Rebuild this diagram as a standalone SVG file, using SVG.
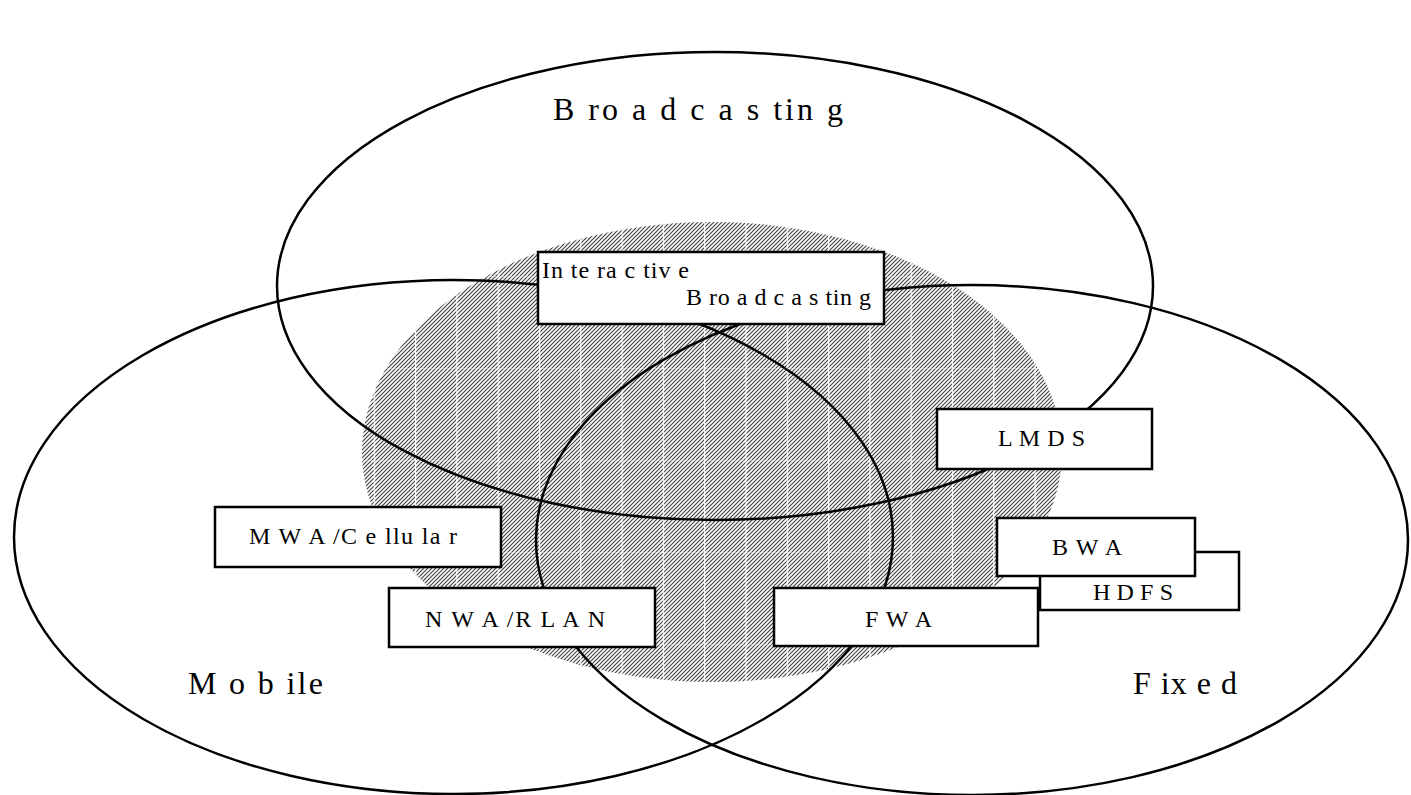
<svg xmlns="http://www.w3.org/2000/svg" width="1411" height="795" viewBox="0 0 1411 795">
<style>
.ring{fill:none;stroke:#000;stroke-width:2.5}
.box{fill:#fff;stroke:#000;stroke-width:2.5}
.big{font-family:"Liberation Serif",serif;font-size:32px;fill:#000}
.lbl{font-family:"Liberation Serif",serif;font-size:24px;fill:#000}
</style>
<defs>
<pattern id="hatch" patternUnits="userSpaceOnUse" width="4" height="4">
<rect width="4" height="4" fill="#fff"/>
<path d="M-1,1 L1,-1 M0,4 L4,0 M3,5 L5,3" stroke="#444" stroke-width="1.2"/>
</pattern>
<pattern id="grid" patternUnits="userSpaceOnUse" x="2" y="0" width="41.3" height="92">
<rect x="0" y="0" width="1.2" height="92" fill="#fff"/>
<rect x="0" y="0" width="41.3" height="0.8" fill="#fff" opacity="0.5"/>
</pattern>
</defs>
<g id="shade">
<ellipse cx="712" cy="452" rx="350" ry="230" fill="url(#hatch)"/>
<ellipse cx="712" cy="452" rx="350" ry="230" fill="url(#grid)"/>
</g>
<g id="connectors">
<ellipse class="ring" cx="715" cy="286" rx="438" ry="234"/>
<ellipse class="ring" cx="453.5" cy="537" rx="439.5" ry="257"/>
<ellipse class="ring" cx="972" cy="540" rx="436" ry="255"/>
</g>
<g id="broadcasting"><text class="big" x="553" y="120" textLength="290" lengthAdjust="spacing">B ro a d c a s tin g</text></g>
<g id="mobile"><text class="big" x="188" y="694" textLength="135" lengthAdjust="spacing">M o b ile</text></g>
<g id="fixed"><text class="big" x="1133" y="694" textLength="104" lengthAdjust="spacing">F ix e d</text></g>
<g id="interactive">
<rect class="box" x="538" y="252" width="346" height="72"/>
<text class="lbl" x="542" y="278" textLength="147" lengthAdjust="spacing">In te ra c tiv e</text>
<text class="lbl" x="686" y="305" textLength="185" lengthAdjust="spacing">B ro a d c a s tin g</text>
</g>
<g id="mwa">
<rect class="box" x="215" y="507" width="286" height="60"/>
<text class="lbl" x="249" y="544" textLength="208" lengthAdjust="spacing">M W A /C e llu la r</text>
</g>
<g id="nwa">
<rect class="box" x="389" y="588" width="266" height="59"/>
<text class="lbl" x="425" y="627" textLength="180" lengthAdjust="spacing">N W A /R L A N</text>
</g>
<g id="lmds">
<rect class="box" x="937" y="409" width="215" height="60"/>
<text class="lbl" x="998" y="446" textLength="87" lengthAdjust="spacing">L M D S</text>
</g>
<g id="fwa">
<rect class="box" x="774" y="588" width="264" height="58"/>
<text class="lbl" x="865" y="627" textLength="67" lengthAdjust="spacing">F W A</text>
</g>
<g id="hdfs">
<rect class="box" x="1040" y="552" width="199" height="58"/>
<text class="lbl" x="1093" y="600" textLength="80" lengthAdjust="spacing">H D F S</text>
</g>
<g id="bwa">
<rect class="box" x="997" y="518" width="198" height="58"/>
<text class="lbl" x="1052" y="555" textLength="70" lengthAdjust="spacing">B W A</text>
</g>
</svg>
